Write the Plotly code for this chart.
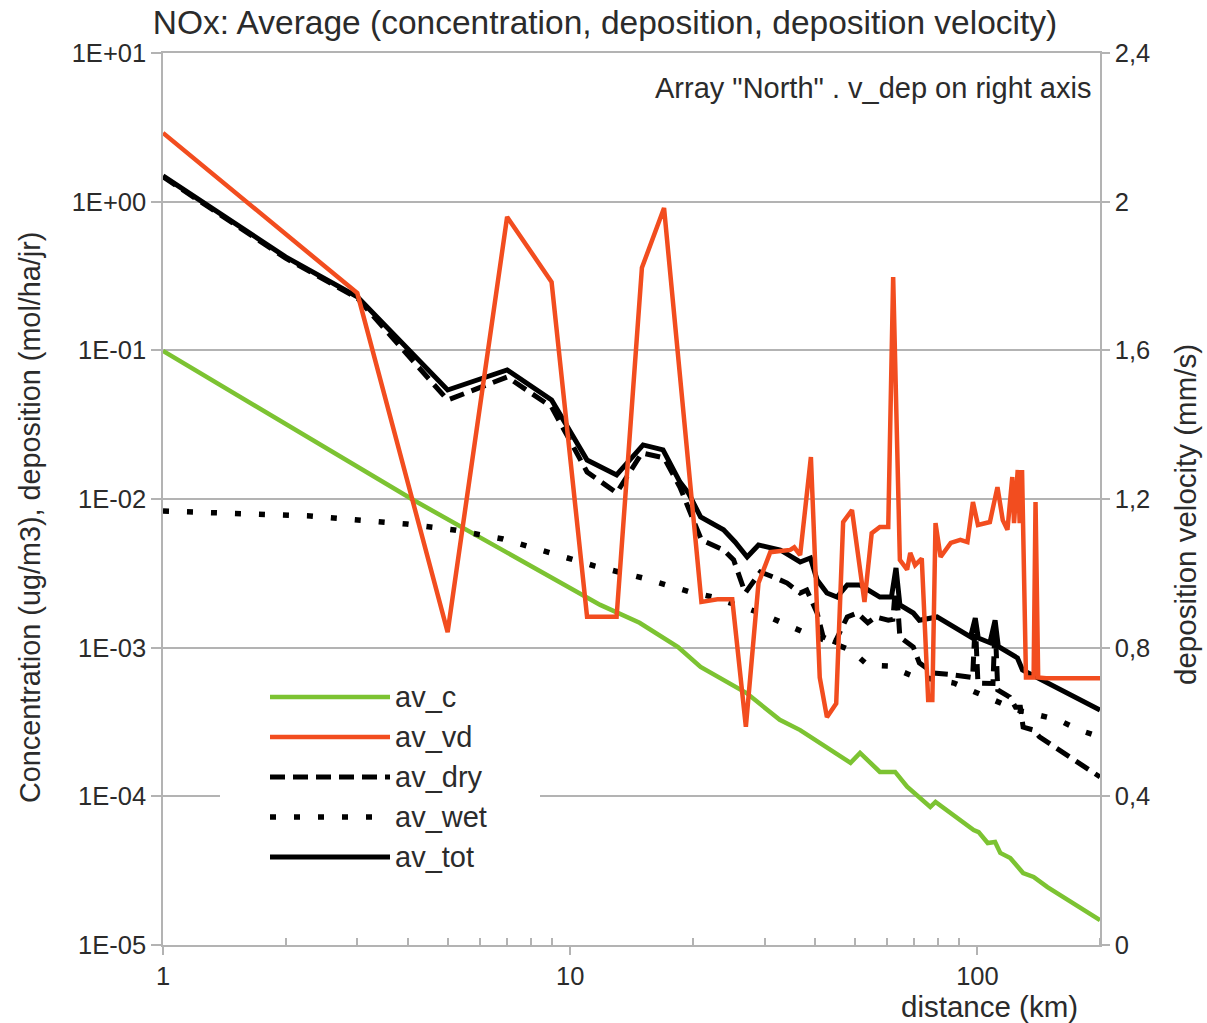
import plotly.graph_objects as go

# ---------------- data ----------------
dist_c = [1, 4.12, 11.85, 14.8, 18.4, 20.9, 27.1, 32.7, 36.7, 48.8, 51.5, 57.6, 62.8,
          67.2, 76.6, 78.9, 97.9, 100.7, 106, 110.5, 113.8, 120.4, 129.5, 137.4, 148.6, 200]
av_c = [0.0991, 0.00984, 0.00194, 0.00147, 0.00101, 0.000741, 0.000495, 0.000327, 0.000279,
        0.000168, 0.000196, 0.000146, 0.000146, 0.000116, 8.47e-5, 9.16e-5, 5.94e-5, 5.75e-5,
        4.85e-5, 4.93e-5, 4.16e-5, 3.85e-5, 3.05e-5, 2.87e-5, 2.45e-5, 1.47e-5]

dist_vd = [1, 3, 5, 7, 9, 11, 13, 15, 17, 21, 23, 25, 27, 29, 31, 34.7, 35.5, 36.7, 39, 40.2,
           41, 42.7, 45, 46.8, 49.2, 52.8, 55, 57.6, 60.4, 62.1, 64.5, 67.2, 68.4, 70.3, 73,
           75.7, 77.5, 78.9, 81.2, 86, 90.8, 94.5, 97.5, 100.3, 107.3, 112, 115.4, 118.5,
           121.8, 123, 125.6, 127, 128.7, 131.6, 137.4, 138.9, 141, 147.5, 200]
av_vd = [2.185, 1.754, 0.842, 1.959, 1.784, 0.883, 0.883, 1.822, 1.983, 0.923, 0.93, 0.93,
         0.587, 0.974, 1.057, 1.063, 1.07, 1.049, 1.313, 0.982, 0.72, 0.613, 0.65, 1.138,
         1.17, 0.923, 1.108, 1.125, 1.125, 1.797, 1.036, 1.01, 1.055, 1.022, 1.04, 0.659,
         0.659, 1.135, 1.044, 1.082, 1.09, 1.084, 1.192, 1.13, 1.138, 1.232, 1.143, 1.117,
         1.259, 1.135, 1.278, 1.135, 1.278, 0.72, 0.72, 1.192, 0.72, 0.718, 0.718]

dist_dry = [1, 2, 3, 5, 7, 9, 11, 13, 15, 17, 18.6, 19.7, 21, 23.8, 25.2, 26.9, 29.3, 31.5,
            34.1, 36.7, 38.1, 40.4, 41.8, 44.7, 47.9, 50.7, 53.8, 56.2, 60.4, 62.0, 63.1,
            64.5, 69.6, 72, 78, 86, 97.3, 98.8, 100.3, 109.2, 110.5, 112.2, 120, 124, 127.5,
            129.5, 137.4, 142, 200]
av_dry = [1.47, 0.417, 0.225, 0.0463, 0.0662, 0.0416, 0.0152, 0.0110, 0.0204, 0.0189,
          0.0120, 0.00805, 0.0053, 0.00454, 0.00389, 0.00233, 0.00323, 0.00299, 0.00272,
          0.00233, 0.00244, 0.00171, 0.00118, 0.00109, 0.00161, 0.00171, 0.00147, 0.00161,
          0.00153, 0.00155, 0.00285, 0.00118, 0.00101, 0.00079, 0.000676, 0.00066, 0.00063,
          0.00149, 0.000578, 0.000575, 0.00147, 0.000519, 0.000466, 0.000398, 0.000398,
          0.000292, 0.000279, 0.000251, 0.000135]

dist_wet = [1, 2.3, 3.97, 5.2, 6.84, 8.93, 11.5, 15.1, 17.3, 19.7, 22.4, 29.3, 32.8, 37.2,
            48.8, 53.8, 60.4, 68.4, 87.6, 100, 125, 158, 178, 200]
av_wet = [0.0083, 0.00769, 0.00679, 0.00619, 0.00538, 0.00434, 0.00354, 0.00294, 0.00264,
          0.00237, 0.00219, 0.00171, 0.00149, 0.00128, 0.000964, 0.000764, 0.000753,
          0.000655, 0.000578, 0.000495, 0.000381, 0.000327, 0.000279, 0.000251]

dist_tot = [1, 2, 3, 5, 7, 9, 11, 13, 15.1, 16.9, 18.6, 19.5, 20.9, 23.8, 25.4, 27.2, 29.0,
            31.0, 32.8, 36.7, 38.9, 40.4, 42.7, 45.2, 47.9, 51.5, 57.6, 61.5, 63.1, 64.5,
            69.6, 72, 79.6, 96.2, 98.8, 100.5, 107.3, 110.5, 112.5, 125.4, 129, 200]
av_tot = [1.49, 0.425, 0.229, 0.0541, 0.0738, 0.0463, 0.0183, 0.0145, 0.0231, 0.0214, 0.0130,
          0.0110, 0.00757, 0.0062, 0.00514, 0.00407, 0.00491, 0.00475, 0.00454, 0.00377,
          0.00401, 0.00285, 0.00233, 0.00219, 0.00264, 0.00264, 0.00219, 0.00219, 0.00344,
          0.00194, 0.00171, 0.00153, 0.00161, 0.00118, 0.00158, 0.00116, 0.00108, 0.00153,
          0.00102, 0.000853, 0.000708, 0.000381]

left_tickvals = [1e-5, 1e-4, 1e-3, 1e-2, 1e-1, 1, 10]
left_ticktext = ["1E-05", "1E-04", "1E-03", "1E-02", "1E-01", "1E+00", "1E+01"]
right_tickvals = [0, 0.4, 0.8, 1.2, 1.6, 2.0, 2.4]
right_ticktext = ["0", "0,4", "0,8", "1,2", "1,6", "2", "2,4"]
x_tickvals = [1, 10, 100]
x_minor = [2, 3, 4, 5, 6, 7, 8, 9, 20, 30, 40, 50, 60, 70, 80, 90, 200]

names = ["av_c", "av_vd", "av_dry", "av_wet", "av_tot"]

# ---------------- styles ----------------
GREEN = "#7cc332"
RED = "#f24d1f"
BLACK = "#000000"
GRID = "#b3b3b3"
TXT = "#2b2b2b"
FONT = "Liberation Sans, Arial, sans-serif"

styles = {
    "av_c": dict(color=GREEN, width=4.5, dash="solid"),
    "av_vd": dict(color=RED, width=4.5, dash="solid"),
    "av_dry": dict(color=BLACK, width=5, dash="15px,8px"),
    "av_wet": dict(color=BLACK, width=5.5, dash="6px,18px"),
    "av_tot": dict(color=BLACK, width=5, dash="solid"),
}

fig = go.Figure()
fig.add_trace(go.Scatter(x=dist_c, y=av_c, mode="lines", name="av_c",
                         line=styles["av_c"], showlegend=False))
fig.add_trace(go.Scatter(x=dist_dry, y=av_dry, mode="lines", name="av_dry",
                         line=styles["av_dry"], showlegend=False))
fig.add_trace(go.Scatter(x=dist_wet, y=av_wet, mode="lines", name="av_wet",
                         line=styles["av_wet"], showlegend=False))
fig.add_trace(go.Scatter(x=dist_tot, y=av_tot, mode="lines", name="av_tot",
                         line=styles["av_tot"], showlegend=False))
fig.add_trace(go.Scatter(x=dist_vd, y=av_vd, mode="lines", name="av_vd",
                         line=styles["av_vd"], yaxis="y2", showlegend=False))

# ---------------- layout ----------------
W, H = 1207, 1023
L, R, T, B = 163, 107, 53, 78
pw, ph = W - L - R, H - T - B


def px(xp):
    return (xp - L) / pw


def py(yp):
    return (H - B - yp) / ph


fig.update_layout(
    width=W, height=H,
    margin=dict(l=L, r=R, t=T, b=B, pad=0),
    paper_bgcolor="white", plot_bgcolor="white",
    font=dict(family=FONT, size=25, color=TXT),
    title=dict(text="NOx: Average (concentration, deposition, deposition velocity)",
               x=605 / W, xref="container", xanchor="center",
               y=1 - 22 / H, yref="container", yanchor="middle",
               font=dict(family=FONT, size=33.5, color=TXT)),
    xaxis=dict(type="log", range=[0, 2.30103], tickmode="array", tickvals=x_tickvals,
               ticktext=["1", "10", "100"], ticks="outside", ticklen=8, tickwidth=1.5,
               tickcolor=GRID, showgrid=False, showline=True, linecolor=GRID, linewidth=1.5,
               mirror=True, zeroline=False, tickfont=dict(size=25.5, color=TXT),
               minor=dict(ticks="inside", ticklen=7, tickwidth=1.5, tickcolor=GRID,
                          tickmode="array", tickvals=x_minor, showgrid=False)),
    yaxis=dict(type="log", range=[-5, 1], tickmode="array", tickvals=left_tickvals,
               ticktext=left_ticktext, ticks="outside", ticklen=10, tickwidth=1.5,
               tickcolor=GRID, showgrid=True, gridcolor=GRID, gridwidth=1.5,
               showline=True, linecolor=GRID, linewidth=1.5, zeroline=False,
               tickfont=dict(size=25.5, color=TXT)),
    yaxis2=dict(overlaying="y", side="right", range=[0, 2.4], tickmode="array",
                tickvals=right_tickvals, ticktext=right_ticktext, ticks="outside",
                ticklen=8, tickwidth=1.5, tickcolor=GRID, showgrid=False, showline=True,
                linecolor=GRID, linewidth=1.5, zeroline=False,
                tickfont=dict(size=25.5, color=TXT)),
    showlegend=False,
)

annotations = [
    dict(text='Array "North" . v_dep on right axis', xref="paper", yref="paper",
         x=px(1093), y=py(88), xanchor="right", yanchor="middle", showarrow=False,
         font=dict(size=29, color=TXT)),
    dict(text="Concentration (ug/m3), deposition (mol/ha/jr)", xref="paper", yref="paper",
         x=px(30), y=py(518), xanchor="center", yanchor="middle", textangle=-90,
         showarrow=False, font=dict(size=28.8, color=TXT)),
    dict(text="deposition velocity (mm/s)", xref="paper", yref="paper",
         x=px(1185), y=py(515), xanchor="center", yanchor="middle", textangle=-90,
         showarrow=False, font=dict(size=29.5, color=TXT)),
    dict(text="distance (km)", xref="paper", yref="paper",
         x=px(989), y=py(1006), xanchor="center", yanchor="middle", showarrow=False,
         font=dict(size=29.5, color=TXT)),
]

# custom legend (long line samples as in the original)
shapes = [dict(type="rect", xref="paper", yref="paper", x0=px(220), x1=px(540),
               y0=py(880), y1=py(675), fillcolor="white", line=dict(width=0),
               layer="above")]
leg_y = [697, 737, 777, 817, 857]
for nm, yy in zip(names, leg_y):
    st = styles[nm]
    shapes.append(dict(type="line", xref="paper", yref="paper", x0=px(270), x1=px(390),
                       y0=py(yy), y1=py(yy), layer="above",
                       line=dict(color=st["color"], width=st["width"], dash=st["dash"])))
    annotations.append(dict(text=nm, xref="paper", yref="paper", x=px(393), y=py(yy),
                            xanchor="left", yanchor="middle", showarrow=False,
                            font=dict(size=29, color=TXT)))

fig.update_layout(annotations=annotations, shapes=shapes)

fig.write_html("out.html")
